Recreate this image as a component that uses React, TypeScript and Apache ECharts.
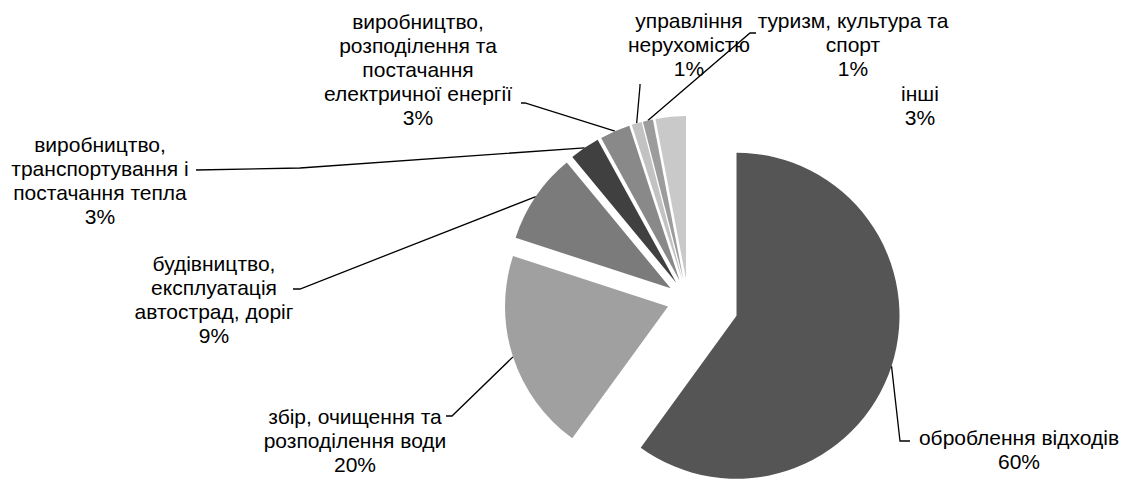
import React, { useEffect, useRef } from "react";
import * as echarts from "echarts";

// Categories (label text as in the reference)
const categories: string[] = [
  "оброблення відходів",
  "збір, очищення та\nрозподілення води",
  "будівництво,\nексплуатація\nавтострад, доріг",
  "виробництво,\nтранспортування і\nпостачання тепла",
  "виробництво,\nрозподілення та\nпостачання\nелектричної енергії",
  "управління\nнерухомістю",
  "туризм, культура та\nспорт",
  "інші",
];

// Shares, %
const values: number[] = [60, 20, 9, 3, 3, 1, 1, 3];

// Slice fill colours
const colors: string[] = [
  "#555555",
  "#a0a0a0",
  "#7b7b7b",
  "#404040",
  "#898989",
  "#c2c2c2",
  "#9c9c9c",
  "#c9c9c9",
];

// Layout (not data)
const PIE_CENTER = [688, 300];
const PIE_RADIUS = 163;
const explode: number[] = [51, 21, 21, 21, 21, 21, 21, 21];
const labelAnchors: number[][] = [
  [1019, 449],
  [355, 440],
  [214, 299],
  [100, 180],
  [418, 69],
  [689, 44],
  [853, 44],
  [920, 105],
];
const leaderBends: (number[][] | null)[] = [
  [[900, 441], [910, 441]],
  [[452, 416], [446, 416]],
  [[300, 289], [293, 289]],
  [[300, 168], [196, 170]],
  [[525, 103], [521, 103]],
  [[640, 86], [640, 84]],
  [[750, 33], [756, 33]],
  null,
];

const FONT = "'Liberation Sans', Arial, sans-serif";

export default function App() {
  const ref = useRef<HTMLDivElement | null>(null);

  useEffect(() => {
    if (!ref.current) return;
    const chart = echarts.init(ref.current, undefined, { renderer: "svg" });

    const total = values.reduce((a, b) => a + b, 0);
    let acc = 0;
    const series = values.map((v, k) => {
      const mid = ((acc + v / 2) / total) * 2 * Math.PI;
      acc += v;
      const cx = PIE_CENTER[0] + explode[k] * Math.sin(mid);
      const cy = PIE_CENTER[1] - explode[k] * Math.cos(mid);
      return {
        type: "pie",
        center: [cx, cy],
        radius: PIE_RADIUS,
        startAngle: 90,
        clockwise: true,
        avoidLabelOverlap: false,
        percentPrecision: 0,
        silent: true,
        z: k === 0 ? 2 : 3,
        label: {
          show: true,
          position: "outside",
          formatter: "{b}\n{d}%",
          fontFamily: FONT,
          fontSize: 21,
          lineHeight: 24,
          color: "#000",
        },
        labelLine: {
          show: true,
          lineStyle: { color: "#000", width: 1.3 },
        },
        itemStyle: { borderWidth: 0 },
        emphasis: { disabled: true },
        data: values.map((val, i) => ({
          name: categories[i],
          value: val,
          itemStyle: { color: i === k ? colors[i] : "rgba(0,0,0,0)" },
          label: { show: i === k },
          labelLine: { show: i === k && leaderBends[i] !== null },
        })),
        labelLayout: (params: any) => {
          if (params.dataIndex !== k) return {};
          const [x, y] = labelAnchors[k];
          const res: any = { x, y, align: "center", verticalAlign: "middle" };
          const bends = leaderBends[k];
          if (bends && params.labelLinePoints) {
            res.labelLinePoints = [params.labelLinePoints[0], ...bends];
          }
          return res;
        },
      };
    });

    chart.setOption({
      animation: false,
      backgroundColor: "#ffffff",
      series,
    } as any);

    return () => {
      chart.dispose();
    };
  }, []);

  return (
    <div
      ref={ref}
      style={{ position: "absolute", left: 0, top: 0, width: 1126, height: 480, background: "#fff" }}
    />
  );
}
